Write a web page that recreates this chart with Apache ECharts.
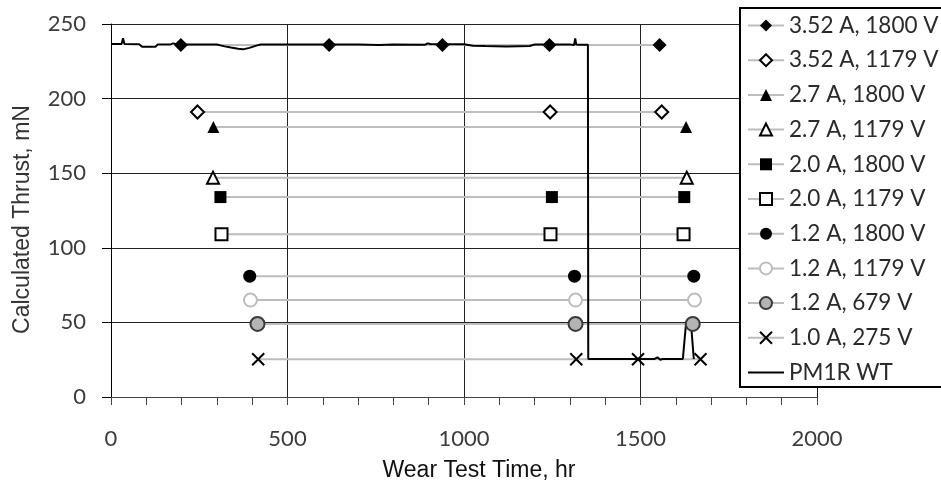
<!DOCTYPE html>
<html>
<head>
<meta charset="utf-8">
<script src="https://cdn.jsdelivr.net/npm/echarts@6/dist/echarts.min.js"></script>
<style>
  html, body { margin: 0; padding: 0; background: #fff; }
  #chart { width: 941px; height: 480px; }
</style>
</head>
<body>
<div id="chart"></div>
<script>
// ---- Data ----
const xTicks = [0, 500, 1000, 1500, 2000];
const yTicks = [0, 50, 100, 150, 200, 250];

const names = [
  '3.52 A, 1800 V', '3.52 A, 1179 V', '2.7 A, 1800 V', '2.7 A, 1179 V',
  '2.0 A, 1800 V', '2.0 A, 1179 V', '1.2 A, 1800 V', '1.2 A, 1179 V',
  '1.2 A, 679 V', '1.0 A, 275 V', 'PM1R WT'
];

const t_352_1800 = [198, 618, 939, 1242, 1554];
const v_352_1800 = [236, 236, 236, 236, 236];
const t_352_1179 = [245, 1244, 1560];
const v_352_1179 = [191, 191, 191];
const t_27_1800 = [290, 1629];
const v_27_1800 = [181, 181];
const t_27_1179 = [289, 1631];
const v_27_1179 = [147, 147];
const t_20_1800 = [310, 1249, 1624];
const v_20_1800 = [134, 134, 134];
const t_20_1179 = [313, 1245, 1622];
const v_20_1179 = [109, 109, 109];
const t_12_1800 = [393, 1313, 1651];
const v_12_1800 = [81, 81, 81];
const t_12_1179 = [395, 1316, 1653];
const v_12_1179 = [65, 65, 65];
const t_12_679 = [415, 1316, 1648];
const v_12_679 = [49, 49, 49];
const t_10_275 = [417, 1318, 1493, 1670];
const v_10_275 = [25.3, 25.3, 25.3, 25.3];

const pmT = [0, 30, 34, 38, 80, 88, 126, 132, 168, 176, 186, 200, 250, 300, 322, 340, 360, 374, 392, 412, 424, 500,
             600, 700, 760, 800, 890, 897, 905, 1000, 1025, 1060, 1120, 1186, 1200, 1260, 1300, 1312, 1315, 1318, 1330,
             1351, 1352, 1540, 1548, 1556, 1562, 1620, 1629, 1643, 1651];
const pmV = [236.6, 236.6, 240.4, 236.6, 236.4, 234.8, 234.8, 236.2, 236.2, 237, 236.4, 236.2, 236.2, 236.3, 235, 234.2, 233.4, 233, 234, 235.5, 236.3, 236.3,
             236.2, 236.3, 236, 236.3, 236.1, 237, 236.6, 236.4, 235.4, 235.2, 235, 235.3, 236.2, 236.3, 236.2, 236, 240.4, 236.2, 236.1,
             236.1, 25.5, 25.5, 26.6, 24.9, 25.5, 25.5, 49.4, 49.4, 25.5];

// ---- Styles ----
const GRAYLINE = '#bdbdbd';
const styles = [
  { symbol: 'diamond', size: 14, item: { color: '#000' } },
  { symbol: 'diamond', size: 13, item: { color: '#fff', borderColor: '#000', borderWidth: 2 } },
  { symbol: 'triangle', size: 12, item: { color: '#000' } },
  { symbol: 'triangle', size: 12, item: { color: '#fff', borderColor: '#000', borderWidth: 2 } },
  { symbol: 'rect', size: 12, item: { color: '#000' } },
  { symbol: 'rect', size: 12, item: { color: '#fff', borderColor: '#000', borderWidth: 2 } },
  { symbol: 'circle', size: 13, item: { color: '#000' } },
  { symbol: 'circle', size: 13, item: { color: '#fff', borderColor: '#bdbdbd', borderWidth: 2 } },
  { symbol: 'circle', size: 14, item: { color: '#b4b4b4', borderColor: '#3a3a3a', borderWidth: 2 } },
  { symbol: 'path://M0,0L10,10M10,0L0,10', size: 12, item: { color: 'none', borderColor: '#000', borderWidth: 2 } }
];
const xs = [t_352_1800, t_352_1179, t_27_1800, t_27_1179, t_20_1800, t_20_1179, t_12_1800, t_12_1179, t_12_679, t_10_275];
const ys = [v_352_1800, v_352_1179, v_27_1800, v_27_1179, v_20_1800, v_20_1179, v_12_1800, v_12_1179, v_12_679, v_10_275];

const series = xs.map((tx, i) => ({
  name: names[i],
  type: 'line',
  data: tx.map((t, j) => [t, ys[i][j]]),
  symbol: styles[i].symbol,
  symbolSize: styles[i].size,
  showSymbol: true,
  lineStyle: { color: GRAYLINE, width: 2 },
  itemStyle: styles[i].item,
  emphasis: { disabled: true },
  animation: false
}));
series.push({
  name: names[10],
  type: 'line',
  data: pmT.map((t, j) => [t, pmV[j]]),
  symbol: 'none',
  showSymbol: false,
  lineStyle: { color: '#000', width: 2 },
  itemStyle: { color: '#000' },
  emphasis: { disabled: true },
  animation: false
});

const legendData = names.map((n, i) => i === 10
  ? { name: n, icon: 'path://M0,0L36,0L36,2L0,2Z', itemStyle: { color: '#000', borderWidth: 0 } }
  : { name: n });

const chart = echarts.init(document.getElementById('chart'), null, { renderer: 'canvas' });
chart.setOption({
  animation: false,
  backgroundColor: '#fff',
  grid: { left: 111, top: 24, right: 124, bottom: 83, containLabel: false, outerBoundsMode: 'none' },
  xAxis: {
    type: 'value', min: 0, max: 2000, interval: 500,
    name: 'Wear Test Time, hr', nameLocation: 'middle', nameGap: 62,
    nameTextStyle: { fontFamily: 'Liberation Sans', fontSize: 23, color: '#111', padding: [0, 0, 0, 30] },
    axisLine: { show: true, onZero: false, lineStyle: { color: '#444', width: 1 } },
    axisTick: { show: true, length: 8, lineStyle: { color: '#444' } },
    minorTick: { show: true, splitNumber: 5, length: 8, lineStyle: { color: '#444' } },
    splitLine: { show: true, lineStyle: { color: '#222', width: 1 } },
    axisLabel: { fontFamily: 'Lato', fontSize: 22, color: '#3c3c3c', margin: 31,
      formatter: v => xTicks.includes(v) ? String(v) : '' }
  },
  yAxis: {
    type: 'value', min: 0, max: 250, interval: 50,
    name: 'Calculated Thrust, mN', nameLocation: 'middle', nameGap: 77, nameRotate: 90,
    nameTextStyle: { fontFamily: 'Liberation Sans', fontSize: 23, color: '#333', padding: [0, 18, 0, 0] },
    axisLine: { show: true, lineStyle: { color: '#000', width: 1 } },
    axisTick: { show: true, length: 9, lineStyle: { color: '#000' } },
    splitLine: { show: true, lineStyle: { color: '#222', width: 1 } },
    axisLabel: { fontFamily: 'Lato', fontSize: 22, color: '#3c3c3c', margin: 25,
      formatter: v => yTicks.includes(v) ? String(v) : '' }
  },
  graphic: [{
    type: 'polyline', z: 8,
    shape: { points: [[960, 8], [740, 8], [740, 387], [960, 387]] },
    style: { fill: null, stroke: '#000', lineWidth: 2 }
  }, {
    type: 'rect', z: 7,
    shape: { x: 740, y: 8, width: 220, height: 379 },
    style: { fill: '#fff' }
  }],
  legend: {
    orient: 'vertical', left: 740, top: 7,
    padding: [7, 20, 3, 7],
    borderWidth: 0,
    itemWidth: 36, itemHeight: 15, itemGap: 11.7,
    textStyle: { fontFamily: 'Lato', fontSize: 22.5, color: '#2a2a2a', lineHeight: 22, padding: [0, 0, 0, 0] },
    data: legendData,
    selectedMode: false,
    z: 10
  },
  series: series
});
</script>
</body>
</html>
